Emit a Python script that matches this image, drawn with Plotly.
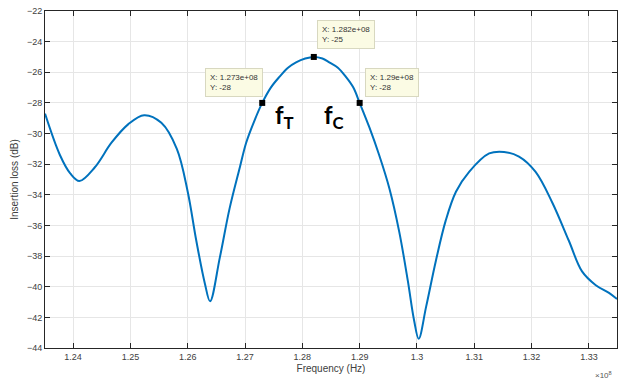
import plotly.graph_objects as go

# Frequency in units of 1e8 Hz, insertion loss in dB
freq = [1.2351, 1.2377, 1.2395, 1.2411, 1.2438, 1.2467, 1.2496, 1.2524, 1.2554,
        1.2581, 1.2600, 1.2615, 1.2630, 1.2639, 1.2656, 1.2673, 1.2691, 1.2702,
        1.2716, 1.2730, 1.2745, 1.2760, 1.2775, 1.2789, 1.2805, 1.2820, 1.2835,
        1.2847, 1.2862, 1.2876, 1.2889, 1.2900, 1.2917, 1.2934,
        1.2952, 1.2969, 1.2984, 1.2995, 1.3003, 1.3016, 1.3033, 1.3050, 1.3068,
        1.3091, 1.3126, 1.3152, 1.3178, 1.3207, 1.3236, 1.3265, 1.3288, 1.3312,
        1.3335, 1.3349]
loss = [-28.7, -31.4, -32.6, -33.1, -32.2, -30.6, -29.4, -28.8, -29.3,
        -31.0, -33.8, -37.0, -39.8, -40.95, -38.1, -34.9, -32.2, -30.6,
        -29.2, -28.0, -27.0, -26.3, -25.7, -25.35, -25.1, -25.0, -25.1,
        -25.35, -25.7, -26.3, -27.0, -28.0, -29.6, -31.4,
        -33.6, -36.4, -39.6, -42.2, -43.4, -41.3, -38.3, -35.7, -33.8,
        -32.5, -31.3, -31.2, -31.5, -32.5, -34.5, -37.0, -39.0, -39.9,
        -40.4, -40.8]

tip_x = [1.273, 1.282, 1.290]
tip_y = [-28, -25, -28]
tip_text = ["X: 1.273e+08<br>Y: -28", "X: 1.282e+08<br>Y: -25", "X: 1.29e+08<br>Y: -28"]
tip_box_x = [1.2630, 1.2825, 1.2910]
tip_box_y = [-25.7, -22.6, -25.7]

x_ticks = [1.24, 1.25, 1.26, 1.27, 1.28, 1.29, 1.30, 1.31, 1.32, 1.33]
x_labels = ["1.24", "1.25", "1.26", "1.27", "1.28", "1.29", "1.3", "1.31", "1.32", "1.33"]
y_ticks = list(range(-44, -21, 2))

fig = go.Figure()
fig.add_trace(go.Scatter(x=freq, y=loss, mode="lines",
                         line=dict(color="#0072BD", width=2, shape="spline", smoothing=1.0),
                         showlegend=False))
fig.add_trace(go.Scatter(x=tip_x, y=tip_y, mode="markers",
                         marker=dict(symbol="square", size=6, color="black"), showlegend=False))

for tx, ty, tt in zip(tip_box_x, tip_box_y, tip_text):
    fig.add_annotation(x=tx, y=ty, xref="x", yref="y", text=tt, showarrow=False,
                       xanchor="left", yanchor="top", align="left",
                       font=dict(family="Liberation Sans, Arial", size=8, color="#333333"),
                       bgcolor="#fbfbe4", bordercolor="#d8d8c0", borderwidth=1, borderpad=4)

fig.add_annotation(x=1.2769, y=-28.9, xref="x", yref="y", text="<b>f<sub>T</sub></b>", showarrow=False,
                   font=dict(family="Lato, DejaVu Sans", size=24, color="black"))
fig.add_annotation(x=1.2856, y=-28.9, xref="x", yref="y", text="<b>f<sub>C</sub></b>", showarrow=False,
                   font=dict(family="Lato, DejaVu Sans", size=24, color="black"))

fig.add_annotation(x=0.995, y=-0.08, xref="paper", yref="paper", text="×10<sup>8</sup>", showarrow=False,
                   xanchor="right", yanchor="middle",
                   font=dict(family="Liberation Sans, Arial", size=8, color="#555555"))

axis_common = dict(showline=True, linecolor="#262626", linewidth=1, mirror="ticks",
                   ticks="inside", ticklen=5, tickcolor="#262626", showgrid=True,
                   gridcolor="#e6e6e6", gridwidth=1, zeroline=False,
                   tickfont=dict(family="Liberation Sans, Arial", size=9, color="#404040"))

fig.update_xaxes(range=[1.2351, 1.3349], tickvals=x_ticks, ticktext=x_labels,
                 title=dict(text="Frequency (Hz)",
                            font=dict(family="Liberation Sans, Arial", size=10, color="#404040"), standoff=4),
                 **axis_common)
fig.update_yaxes(range=[-44, -22], tickvals=y_ticks,
                 title=dict(text="Insertion loss (dB)",
                            font=dict(family="Liberation Sans, Arial", size=10, color="#404040"), standoff=6),
                 **axis_common)

fig.update_layout(width=624, height=383, margin=dict(l=45, r=6, t=7, b=35),
                  paper_bgcolor="white", plot_bgcolor="white")

fig.write_html("out.html")
